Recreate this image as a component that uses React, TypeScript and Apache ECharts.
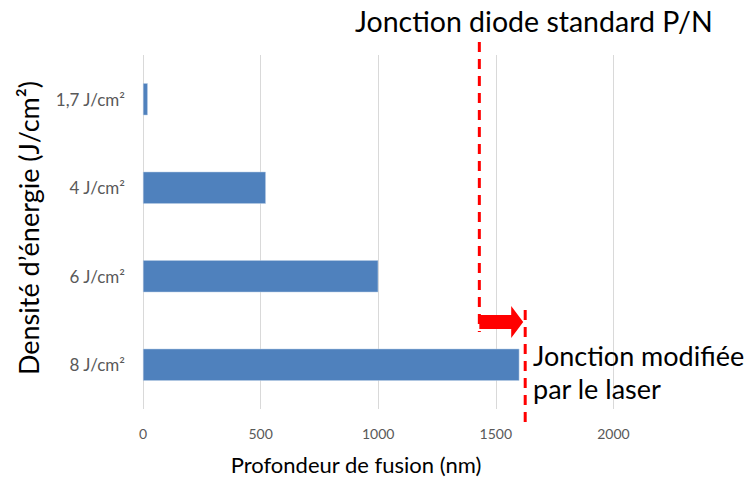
import React, { useEffect, useRef } from "react";
import * as echarts from "echarts";

const categories = ["1,7 J/cm²", "4 J/cm²", "6 J/cm²", "8 J/cm²"];
const depths = [20, 522, 1000, 1600];
const xMin = 0;
const xMax = 2500;
const xInterval = 500;
const standardJunction = 1430;
const modifiedJunction = 1625;

const FONT = "Lato";

export default function App() {
  const ref = useRef<HTMLDivElement>(null);
  useEffect(() => {
    document.body.style.margin = "0";
    const chart = echarts.init(ref.current!, null, { renderer: "svg" });
    chart.setOption({
      animation: false,
      textStyle: { fontFamily: FONT },
      grid: { left: 143, right: 16, top: 55, bottom: 78, containLabel: false },
      xAxis: {
        type: "value",
        min: xMin,
        max: xMax,
        interval: xInterval,
        axisLine: { show: false },
        axisTick: { show: false },
        axisLabel: {
          color: "#595959",
          fontSize: 14,
          margin: 17,
          fontFamily: FONT,
          formatter: (v: number) => (v >= xMax ? "" : String(v)),
        },
        splitLine: {
          show: true,
          lineStyle: {
            color: ["#d9d9d9", "#d9d9d9", "#d9d9d9", "#d9d9d9", "#d9d9d9", "rgba(0,0,0,0)"],
            width: 1,
          },
        },
      },
      yAxis: {
        type: "category",
        data: categories,
        inverse: true,
        axisLine: { show: false },
        axisTick: { show: false },
        axisLabel: { color: "#595959", fontSize: 17, margin: 18, fontFamily: FONT },
      },
      series: [
        {
          type: "bar",
          data: depths,
          barWidth: 32,
          itemStyle: { color: "#4f81bd", borderColor: "#b8cce4", borderWidth: 0.5 },
        },
      ],
    });

    const xs = chart.convertToPixel({ xAxisIndex: 0 }, standardJunction) as number;
    const xm = chart.convertToPixel({ xAxisIndex: 0 }, modifiedJunction) as number;
    const ay = 322;
    const dash = { stroke: "#ff0000", lineWidth: 3, lineDash: [10, 7] };
    chart.setOption({
      graphic: [
        { type: "line", shape: { x1: xs, y1: 42, x2: xs, y2: 332 }, style: dash, z: 100 },
        { type: "line", shape: { x1: xm, y1: 310, x2: xm, y2: 424 }, style: dash, z: 100 },
        {
          type: "polygon",
          z: 101,
          shape: {
            points: [
              [xs, ay - 7],
              [xm - 14, ay - 7],
              [xm - 14, ay - 16],
              [xm - 2, ay],
              [xm - 14, ay + 16],
              [xm - 14, ay + 7],
              [xs, ay + 7],
            ],
          },
          style: { fill: "#ff0000" },
        },
        {
          type: "text",
          x: 355,
          y: 21,
          style: {
            text: "Jonction diode standard P/N",
            font: `28.5px ${FONT}`,
            fill: "#000",
            verticalAlign: "middle",
          },
        },
        {
          type: "text",
          x: 533,
          y: 355,
          style: { text: "Jonction modifiée", font: `27px ${FONT}`, fill: "#000", verticalAlign: "middle" },
        },
        {
          type: "text",
          x: 533,
          y: 388,
          style: { text: "par le laser", font: `27px ${FONT}`, fill: "#000", verticalAlign: "middle" },
        },
        {
          type: "text",
          x: 356,
          y: 464,
          style: {
            text: "Profondeur de fusion (nm)",
            font: `22px ${FONT}`,
            fill: "#000",
            align: "center",
            verticalAlign: "middle",
          },
        },
        {
          type: "text",
          x: 28,
          y: 228,
          rotation: Math.PI / 2,
          style: {
            text: "Densité d’énergie (J/cm²)",
            font: `27px ${FONT}`,
            fill: "#000",
            align: "center",
            verticalAlign: "middle",
          },
        },
      ],
    });
    return () => chart.dispose();
  }, []);
  return <div ref={ref} style={{ width: 747, height: 487 }} />;
}
